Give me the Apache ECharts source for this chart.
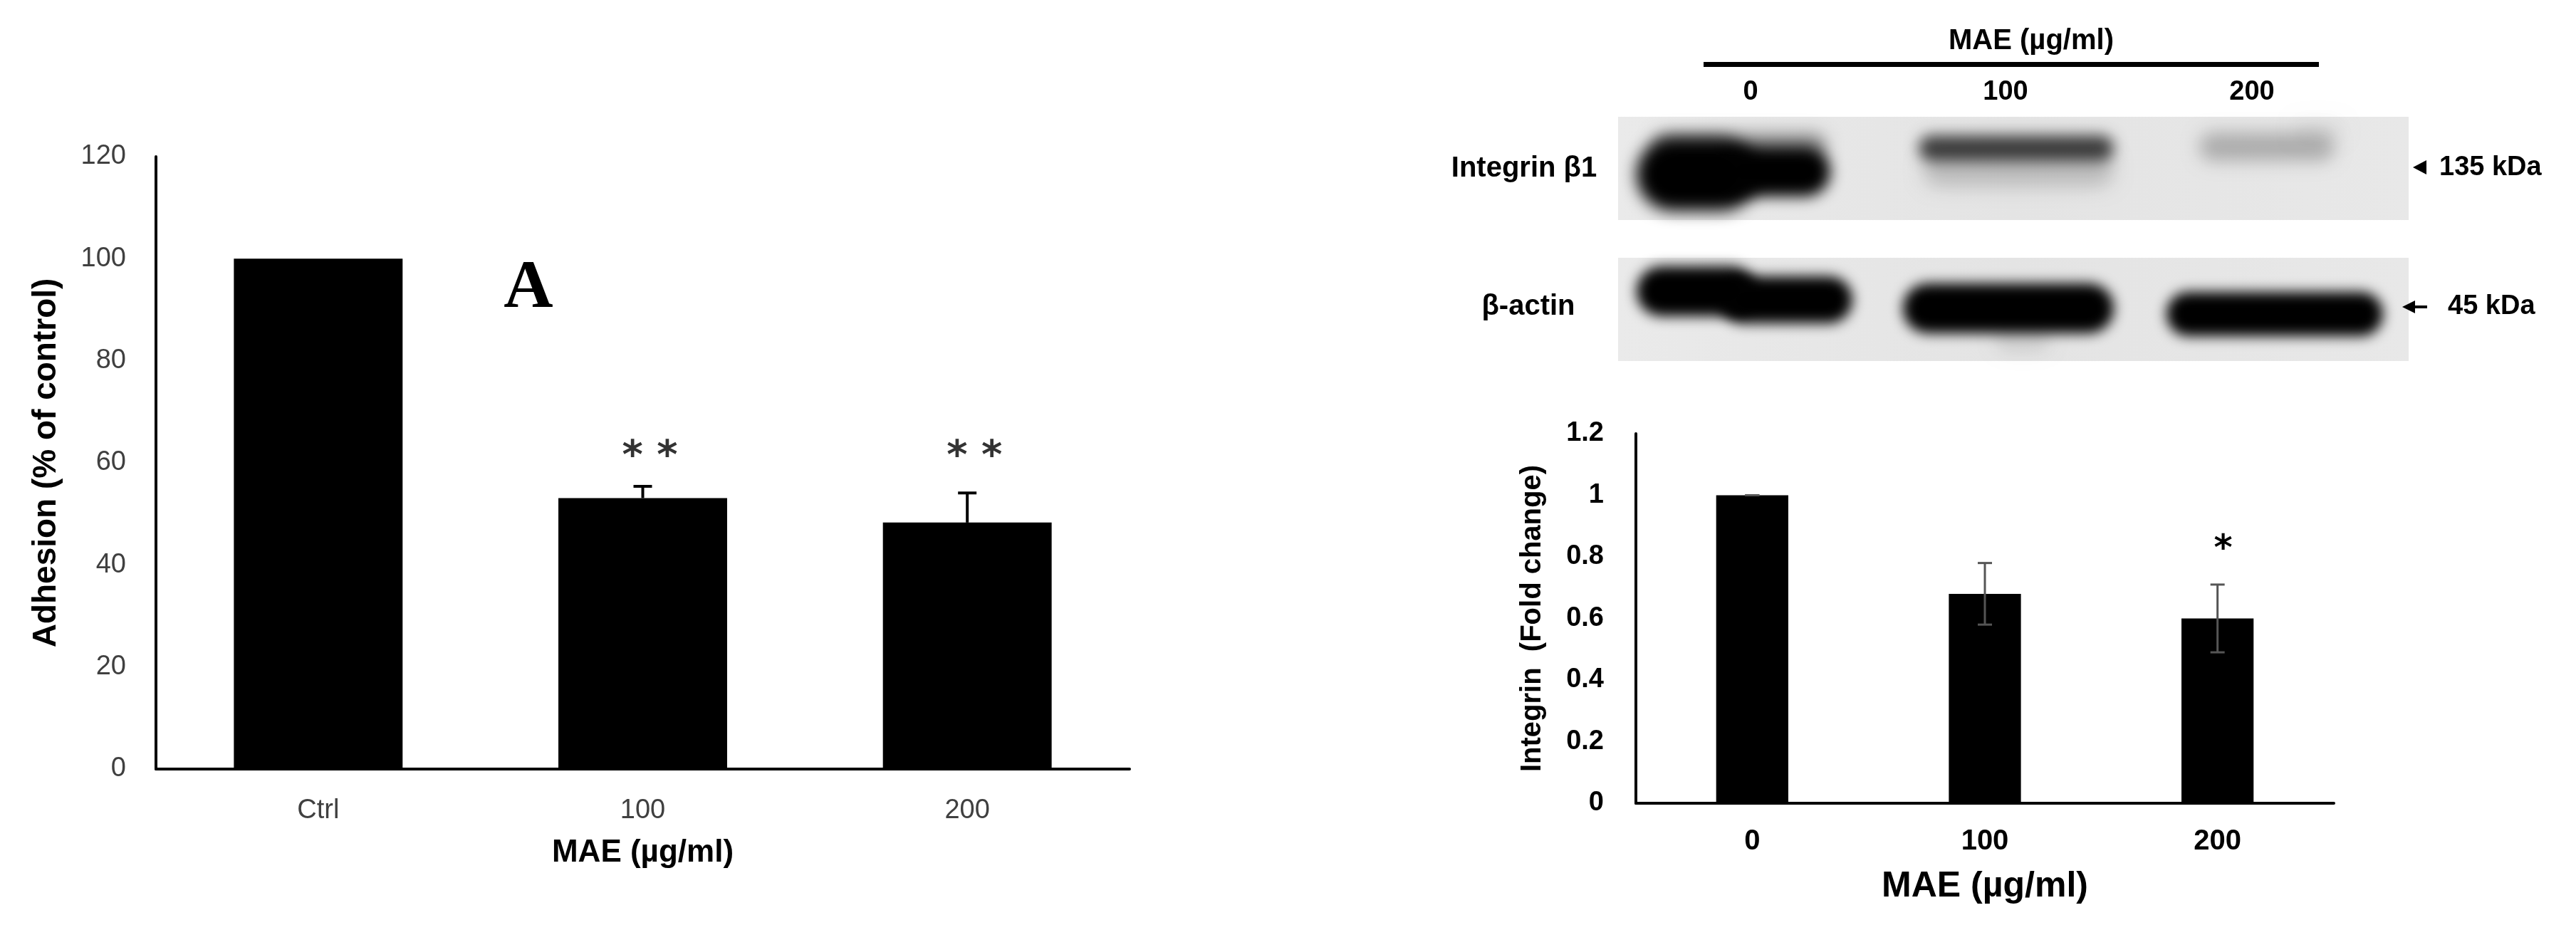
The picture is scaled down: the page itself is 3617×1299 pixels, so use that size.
<!DOCTYPE html>
<html>
<head>
<meta charset="utf-8">
<script src="https://cdn.jsdelivr.net/npm/echarts@6/dist/echarts.min.js"></script>
<style>
html, body { margin: 0; padding: 0; background: #fff; }
#chart { width: 3617px; height: 1299px; }
</style>
</head>
<body>
<div id="chart"></div>
<script>
// panel A - cell adhesion
var adhesionCats = ['Ctrl', '100', '200']
var adhesionVals = [100, 53.1, 48.3]
var adhesionErr = [0, 2.3, 5.8]
var adhesionSig = ['', '* *', '* *']
var adhesionTicks = [0, 20, 40, 60, 80, 100, 120]

// panel B - integrin fold change (blot quantification)
var integrinCats = ['0', '100', '200']
var integrinVals = [1.0, 0.68, 0.60]
var integrinErr = [0, 0.10, 0.11]
var integrinSig = ['', '', '*']
var integrinTicks = [0, 0.2, 0.4, 0.6, 0.8, 1.0, 1.2]

// blot labels
var blotLanes = ['0', '100', '200']
var blotRows = ['Integrin β1', 'β-actin']
var blotSizes = ['135 kDa', '45 kDa']

var FONT = 'Liberation Sans, Arial, sans-serif'

function errorBar(color, width, cap, both) {
  return function (params, api) {
    var i = api.value(0)
    var v = api.value(1)
    var e = api.value(2)
    if (!both && !e) return null
    var top = api.coord([i, v + e])
    var bot = api.coord([i, both ? v - e : v])
    var h = cap / 2
    var st = { stroke: color, lineWidth: width }
    var kids = [
      { type: 'line', shape: { x1: top[0], y1: top[1], x2: bot[0], y2: bot[1] }, style: st },
      { type: 'line', shape: { x1: top[0] - h, y1: top[1], x2: top[0] + h, y2: top[1] }, style: st }
    ]
    if (both) {
      kids.push({ type: 'line', shape: { x1: bot[0] - h, y1: bot[1], x2: bot[0] + h, y2: bot[1] }, style: st })
    }
    return { type: 'group', children: kids }
  }
}

function rows(cats, vals, errs) {
  return cats.map(function (c, i) { return [i, vals[i], errs[i]] })
}

// soft blot band: only the blurred shadow is visible
var OFF = 6000
function band(x, y, w, h, color, blur) {
  return {
    type: 'rect', silent: true, z: 2,
    shape: { x: x - OFF, y: y, width: w, height: h, r: h / 2 },
    style: { fill: color, shadowColor: color, shadowBlur: blur, shadowOffsetX: OFF }
  }
}

function txt(x, y, s, size, opts) {
  opts = opts || {}
  return {
    type: 'text', x: x, y: y, z: 5, silent: true,
    style: {
      text: s, fontSize: size, fontFamily: opts.family || FONT,
      fontWeight: opts.weight || 'bold', fill: opts.color || '#000',
      align: opts.align || 'center', verticalAlign: 'middle'
    }
  }
}

var panelFill = new echarts.graphic.LinearGradient(0, 0, 1, 0, [
  { offset: 0, color: '#eaeaea' }, { offset: 0.5, color: '#e4e4e4' }, { offset: 1, color: '#e8e8e8' }
])

var blotGraphics = [
  // panels
  { type: 'rect', z: 1, silent: true, shape: { x: 2272, y: 164, width: 1110, height: 145 }, style: { fill: panelFill } },
  { type: 'rect', z: 1, silent: true, shape: { x: 2272, y: 362, width: 1110, height: 145 }, style: { fill: panelFill } },
  // integrin bands
  band(2298, 194, 170, 102, 'rgba(0,0,0,1)', 22),
  band(2410, 206, 160, 70, 'rgba(0,0,0,1)', 20),
  band(2320, 186, 245, 38, 'rgba(0,0,0,0.6)', 22),
  band(2694, 190, 274, 36, 'rgba(0,0,0,0.85)', 20),
  band(2700, 214, 268, 48, 'rgba(0,0,0,0.42)', 26),
  band(3088, 186, 190, 40, 'rgba(0,0,0,0.5)', 24),
  band(3220, 168, 70, 30, 'rgba(0,0,0,0.2)', 22),
  // actin bands
  band(2298, 374, 168, 70, 'rgba(0,0,0,1)', 18),
  band(2415, 388, 186, 66, 'rgba(0,0,0,1)', 18),
  band(2672, 398, 296, 70, 'rgba(0,0,0,1)', 18),
  band(2800, 452, 80, 42, 'rgba(0,0,0,0.3)', 22),
  band(3042, 410, 304, 62, 'rgba(0,0,0,1)', 18),
  // header
  txt(2852, 58, 'MAE (µg/ml)', 40),
  { type: 'rect', z: 3, silent: true, shape: { x: 2392, y: 87, width: 864, height: 7 }, style: { fill: '#000' } },
  txt(2458, 130, blotLanes[0], 38),
  txt(2816, 130, blotLanes[1], 38),
  txt(3162, 130, blotLanes[2], 38),
  // row labels
  txt(2140, 237, blotRows[0], 40),
  txt(2146, 431, blotRows[1], 40),
  // size markers
  { type: 'polygon', z: 3, silent: true, shape: { points: [[3388, 235], [3407, 225], [3407, 245]] }, style: { fill: '#000' } },
  txt(3425, 236, blotSizes[0], 38, { align: 'left' }),
  { type: 'polygon', z: 3, silent: true, shape: { points: [[3373, 431], [3391, 422], [3391, 440]] }, style: { fill: '#000' } },
  { type: 'rect', z: 3, silent: true, shape: { x: 3388, y: 429, width: 20, height: 4 }, style: { fill: '#000' } },
  txt(3437, 431, blotSizes[1], 38, { align: 'left' }),
  // panel letter
  txt(742, 406, 'A', 96, { family: 'Liberation Serif, Times New Roman, serif' })
]

var chart = echarts.init(document.getElementById('chart'))
chart.setOption({
  backgroundColor: '#fff',
  animation: false,
  grid: [
    { left: 219, top: 220, width: 1367, height: 860 },
    { left: 2297, top: 609, width: 980, height: 519 }
  ],
  xAxis: [
    {
      gridIndex: 0, type: 'category', data: adhesionCats,
      axisLine: { lineStyle: { color: '#000', width: 4 } },
      axisTick: { show: false },
      axisLabel: { color: '#404040', fontSize: 38, fontFamily: FONT, margin: 40 },
      name: 'MAE (µg/ml)', nameLocation: 'middle', nameGap: 96,
      nameTextStyle: { color: '#000', fontSize: 44, fontWeight: 'bold', fontFamily: FONT }
    },
    {
      gridIndex: 1, type: 'category', data: integrinCats,
      axisLine: { lineStyle: { color: '#000', width: 4 } },
      axisTick: { show: false },
      axisLabel: { color: '#000', fontSize: 40, fontWeight: 'bold', fontFamily: FONT, margin: 34 },
      name: 'MAE (µg/ml)', nameLocation: 'middle', nameGap: 92,
      nameTextStyle: { color: '#000', fontSize: 50, fontWeight: 'bold', fontFamily: FONT }
    }
  ],
  yAxis: [
    {
      gridIndex: 0, type: 'value',
      min: adhesionTicks[0], max: adhesionTicks[adhesionTicks.length - 1],
      interval: adhesionTicks[1] - adhesionTicks[0],
      axisLine: { show: true, lineStyle: { color: '#000', width: 4 } },
      axisTick: { show: false }, splitLine: { show: false },
      axisLabel: { color: '#404040', fontSize: 38, fontFamily: FONT, margin: 42 },
      name: 'Adhesion (% of control)', nameLocation: 'middle', nameRotate: 90, nameGap: 131,
      nameTextStyle: { color: '#000', fontSize: 46, fontWeight: 'bold', fontFamily: FONT }
    },
    {
      gridIndex: 1, type: 'value',
      min: integrinTicks[0], max: integrinTicks[integrinTicks.length - 1],
      interval: 0.2,
      axisLine: { show: true, lineStyle: { color: '#000', width: 4 } },
      axisTick: { show: false }, splitLine: { show: false },
      axisLabel: {
        color: '#000', fontSize: 38, fontWeight: 'bold', fontFamily: FONT, margin: 45,
        formatter: function (v) { return String(+v.toFixed(1)) }
      },
      name: 'Integrin  (Fold change)', nameLocation: 'middle', nameRotate: 90, nameGap: 125,
      nameTextStyle: { color: '#000', fontSize: 40, fontWeight: 'bold', fontFamily: FONT }
    }
  ],
  series: [
    {
      type: 'bar', xAxisIndex: 0, yAxisIndex: 0, data: adhesionVals,
      barWidth: '52%', itemStyle: { color: '#000' }
    },
    {
      type: 'custom', xAxisIndex: 0, yAxisIndex: 0, z: 3,
      data: rows(adhesionCats, adhesionVals, adhesionErr),
      encode: { x: 0, y: 1 },
      renderItem: errorBar('#000', 4, 26, false)
    },
    {
      type: 'custom', xAxisIndex: 0, yAxisIndex: 0, z: 3,
      data: rows(adhesionCats, adhesionVals, adhesionErr),
      encode: { x: 0, y: 1 },
      renderItem: function (params, api) {
        var p = api.coord([api.value(0), 63])
        return {
          type: 'text', x: p[0] + 10, y: p[1] + 14,
          style: { text: adhesionSig[params.dataIndex], fontSize: 56, fontWeight: 'bold', fontFamily: 'DejaVu Sans', fill: '#333', align: 'center', verticalAlign: 'middle' }
        }
      }
    },
    {
      type: 'bar', xAxisIndex: 1, yAxisIndex: 1, data: integrinVals,
      barWidth: '31%', itemStyle: { color: '#000' }
    },
    {
      type: 'custom', xAxisIndex: 1, yAxisIndex: 1, z: 3,
      data: rows(integrinCats, integrinVals, integrinErr),
      encode: { x: 0, y: 1 },
      renderItem: errorBar('#555', 3, 20, true)
    },
    {
      type: 'custom', xAxisIndex: 1, yAxisIndex: 1, z: 3,
      data: rows(integrinCats, integrinVals, integrinErr),
      encode: { x: 0, y: 1 },
      renderItem: function (params, api) {
        var p = api.coord([api.value(0), api.value(1) + api.value(2)])
        return {
          type: 'text', x: p[0] + 8, y: p[1] - 48,
          style: { text: integrinSig[params.dataIndex], fontSize: 50, fontWeight: 'bold', fontFamily: 'DejaVu Sans', fill: '#000', align: 'center', verticalAlign: 'middle' }
        }
      }
    }
  ],
  graphic: blotGraphics
})
</script>
</body>
</html>
